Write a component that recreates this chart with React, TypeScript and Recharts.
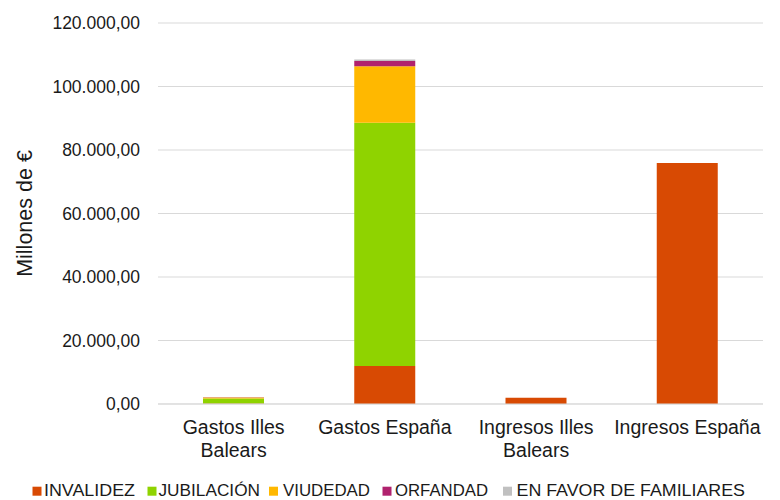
import React from 'react';
import { BarChart, Bar, XAxis, YAxis, CartesianGrid } from 'recharts';

const categories = ['Gastos Illes Balears', 'Gastos España', 'Ingresos Illes Balears', 'Ingresos España'];
const categoryLines: string[][] = [['Gastos Illes', 'Balears'], ['Gastos España'], ['Ingresos Illes', 'Balears'], ['Ingresos España']];
const invalidez = [150, 12000, 2000, 75900];
const jubilacion = [1600, 76550, 0, 0];
const viudedad = [300, 17850, 0, 0];
const orfandad = [40, 1640, 0, 0];
const familiares = [10, 480, 0, 0];
const yTicks = [0, 20000, 40000, 60000, 80000, 100000, 120000];

const seriesNames = ['INVALIDEZ', 'JUBILACIÓN', 'VIUDEDAD', 'ORFANDAD', 'EN FAVOR DE FAMILIARES'];
const seriesKeys = ['inv', 'jub', 'viu', 'orf', 'fam'];
const seriesColors = ['#D84A03', '#8FD300', '#FFB800', '#B0226E', '#C0C0C0'];

const data = categories.map((c, i) => ({
  name: c,
  inv: invalidez[i],
  jub: jubilacion[i],
  viu: viudedad[i],
  orf: orfandad[i],
  fam: familiares[i],
}));

const fmt = (v: number) => {
  const s = Math.round(v).toString().replace(/\B(?=(\d{3})+(?!\d))/g, '.');
  return s + ',00';
};

const FONT = 'Liberation Sans, Arial, sans-serif';
const TEXT = '#1a1a1a';

const XTick = (props: any) => {
  const { x, y, payload } = props;
  const i = categories.indexOf(payload.value);
  const lines = categoryLines[i] || [payload.value];
  return (
    <g transform={`translate(${x},${y})`}>
      {lines.map((l, k) => (
        <text key={k} x={0} y={22 + k * 23} textAnchor="middle" fill={TEXT} fontSize={19.5} fontFamily={FONT}>
          {l}
        </text>
      ))}
    </g>
  );
};

// legend layout: [squareX, textStart, textEnd]
const legendLayout = [
  [32.5, 44, 135],
  [147.5, 158.5, 260],
  [269, 283, 370],
  [382.5, 395, 488],
  [503, 516.5, 745],
];

const LegendRow = () => (
  <svg width={780} height={30} style={{ position: 'absolute', left: 0, top: 475 }}>
    {seriesNames.map((n, i) => {
      const [sx, ts, te] = legendLayout[i];
      return (
        <g key={n}>
          <rect x={sx} y={11.7} width={9} height={9} fill={seriesColors[i]} />
          <text x={ts} y={21} fontSize={17} fill={TEXT} fontFamily={FONT} textLength={te - ts} lengthAdjust="spacingAndGlyphs">{n}</text>
        </g>
      );
    })}
  </svg>
);

export default function App() {
  return (
    <div style={{ position: 'absolute', left: 0, top: 0, width: 780, height: 500, background: '#fff' }}>
      <BarChart width={780} height={500} data={data} margin={{ top: 23, right: 17, left: 0, bottom: 0 }}>
        <CartesianGrid vertical={false} stroke="#D9D9D9" />
        <XAxis
          dataKey="name"
          height={96}
          tick={<XTick />}
          tickLine={false}
          axisLine={{ stroke: '#D9D9D9' }}
          interval={0}
        />
        <YAxis
          width={158}
          domain={[0, 120000]}
          ticks={yTicks}
          tickFormatter={fmt}
          tickLine={false}
          axisLine={false}
          tick={{ fill: TEXT, fontSize: 17.5, fontFamily: FONT, dx: -10 }}
          label={{ value: 'Millones de €', angle: -90, position: 'insideLeft', offset: 24, style: { fill: TEXT, fontSize: 21.5, fontFamily: FONT, textAnchor: 'middle' } }}
        />
        {seriesKeys.map((k, i) => (
          <Bar key={k} dataKey={k} name={seriesNames[i]} stackId="a" fill={seriesColors[i]} barSize={61} isAnimationActive={false} />
        ))}
      </BarChart>
      <LegendRow />
    </div>
  );
}
